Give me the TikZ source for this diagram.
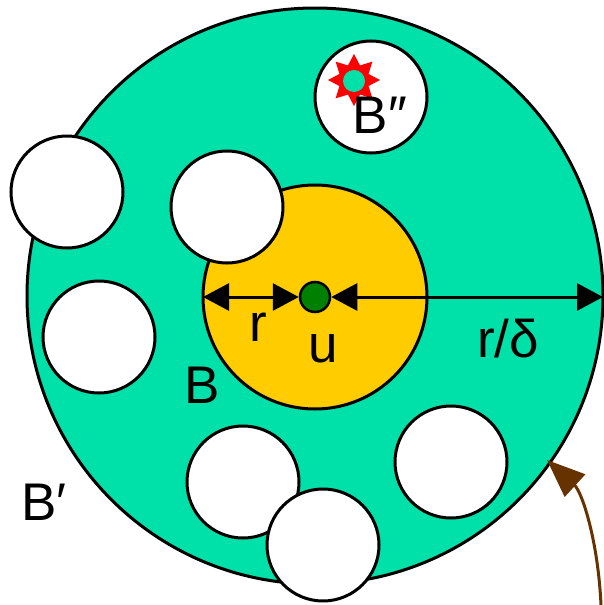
\documentclass[tikz,border=0pt]{standalone}
\usepackage{fontspec}
\setmainfont{Liberation Sans}
\usetikzlibrary{arrows.meta,shapes.geometric}
\definecolor{turq}{HTML}{00E1AA}
\definecolor{gold}{HTML}{FFCC00}
\definecolor{dgreen}{HTML}{008000}
\definecolor{brownc}{HTML}{663300}
\begin{document}
\begin{tikzpicture}[x=1pt,y=-1pt,
  outline/.style={draw=black,line width=3pt},
  hole/.style={outline,fill=white},
  lbl/.style={anchor=base,inner sep=0pt,font=\fontsize{53}{60}\selectfont},
  dimarrow/.style={line width=3pt,{Triangle[length=26pt,width=27pt]}-{Triangle[length=26pt,width=27pt]}}]
\useasboundingbox (0,0) rectangle (603,605);
% big region B'
\draw[outline,fill=turq] (315,296) circle (288);
% yellow ball B
\draw[outline,fill=gold] (315,297) circle (112);
% white holes
\draw[hole] (371,97) circle (56);
\draw[hole] (67,192) circle (56);
\draw[hole] (227,207) circle (56);
\draw[hole] (99,337) circle (56);
\draw[hole] (243,482) circle (56);
\draw[hole] (451,462) circle (56);
\draw[hole] (323,545) circle (56);
% star in B''
\node[star,star points=8,star point ratio=1.65,minimum size=52pt,inner sep=0pt,fill=red] (star) at (354,80) {};
\node[circle,minimum size=22pt,inner sep=0pt,fill=turq] (core) at (354,81) {};
% centre point u
\node[circle,draw=black,line width=2.5pt,fill=dgreen,minimum size=30pt,inner sep=0pt] (dot) at (315,297) {};
\coordinate (bl) at (203,297);
\coordinate (br) at (603,297);
\draw[dimarrow] (bl) -- (dot.west);
\draw[dimarrow] (dot.east) -- (br);
% brown pointer
\coordinate (bs) at (601,605);
\coordinate (be) at (547,460);
\draw[brownc,line width=3pt,arrows={-Triangle[length=38pt,width=30pt]}] (bs) .. controls (598,540) and (582,492) .. (be);
% labels
\node[lbl] (lBpp) at (380,133) {B″};
\node[lbl] (lB) at (202,403) {B};
\node[lbl] (lBp) at (44,520) {B′};
\node[lbl] (lr) at (258,341) {r};
\node[lbl] (lu) at (323,362) {u};
\node[lbl] (lrd) at (508,357) {r/δ};
\end{tikzpicture}
\end{document}
